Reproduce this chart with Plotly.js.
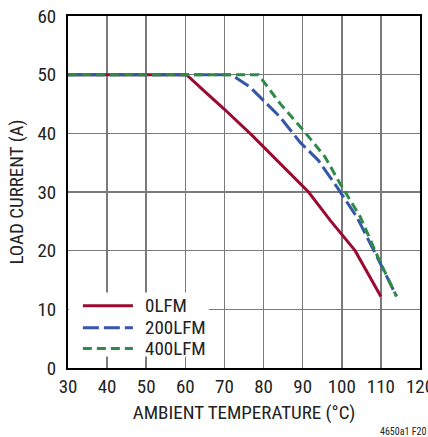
<!DOCTYPE html>
<html>
<head>
<meta charset="utf-8">
<script src="https://cdn.plot.ly/plotly-3.0.1.min.js"></script>
<style>
html,body{margin:0;padding:0;background:#fff;}
#chart{width:428px;height:437px;}
</style>
</head>
<body>
<div id="chart"></div>
<script>
// Data
const seriesNames = ["0LFM", "200LFM", "400LFM"];
const temp0 = [30, 60.3, 65, 70, 77, 84, 91.5, 97, 103.4, 110];
const load0 = [50, 50, 47.1, 44.1, 39.7, 35, 30, 25.2, 20, 12.2];
const temp200 = [30, 71.8, 76.5, 84.2, 89.3, 94, 98.7, 103.8, 109.8, 114];
const load200 = [50, 50, 47.9, 42.8, 38.5, 35.4, 30.9, 25.8, 17.9, 12.2];
const temp400 = [30, 78.7, 84.2, 90.2, 95.7, 99.5, 104.7, 109.5, 114];
const load400 = [50, 50, 45.1, 40.5, 36, 31.5, 25.8, 18.5, 12.2];
const xTicks = [30, 40, 50, 60, 70, 80, 90, 100, 110, 120];
const yTicks = [0, 10, 20, 30, 40, 50, 60];

const FONT = '"Liberation Sans Narrow", "Roboto Condensed", "Arial Narrow", Arial, sans-serif';
const TXT = '#222';
const colors = ['#9b0a30', '#3656a8', '#2f8a48'];
const dashes = ['solid', '16px,5px', '9px,5px'];

const traces = [
  {x: temp0, y: load0, name: seriesNames[0], mode: 'lines',
   line: {color: colors[0], width: 3, dash: dashes[0]}},
  {x: temp200, y: load200, name: seriesNames[1], mode: 'lines',
   line: {color: colors[1], width: 3, dash: dashes[1]}},
  {x: temp400, y: load400, name: seriesNames[2], mode: 'lines',
   line: {color: colors[2], width: 3, dash: dashes[2]}}
];

// Legend drawn as shapes + annotations (in axis coordinates of the plot)
const legRowsY = [10.62, 6.88, 3.31];
const shapes = [{
  type: 'rect', xref: 'x', yref: 'y', x0: 30.2, x1: 66.0, y0: 1.95, y1: 12.85,
  fillcolor: '#fff', line: {width: 0}, layer: 'above'
}];
const annotations = [];
seriesNames.forEach((n, i) => {
  shapes.push({type: 'line', xref: 'x', yref: 'y', x0: 33.8, x1: 46.6,
    y0: legRowsY[i], y1: legRowsY[i], layer: 'above',
    line: {color: colors[i], width: 3, dash: dashes[i]}});
  annotations.push({text: n, xref: 'x', yref: 'y', x: 49.3, y: legRowsY[i],
    xanchor: 'left', yanchor: 'middle', showarrow: false,
    font: {family: FONT, size: 19, color: TXT}});
});
annotations.push({
  text: '4650a1 F20', xref: 'paper', yref: 'paper', x: 1.025, y: -0.18,
  xanchor: 'right', yanchor: 'middle', showarrow: false,
  font: {family: FONT, size: 10, color: TXT}
});

const layout = {
  width: 428, height: 437,
  margin: {l: 68, r: 8, t: 15.5, b: 68.5},
  paper_bgcolor: '#fff', plot_bgcolor: '#fff',
  font: {family: FONT, size: 19, color: TXT},
  showlegend: false,
  xaxis: {
    range: [30, 120], tickvals: xTicks, ticktext: xTicks.map(String),
    showgrid: true, gridcolor: '#7a7a7a', gridwidth: 1.5,
    zeroline: false, showline: true, linecolor: '#000', linewidth: 2, mirror: true,
    ticks: '', ticklen: 0, ticklabeloverflow: 'allow',
    title: {text: 'AMBIENT TEMPERATURE (°C)', font: {family: FONT, size: 19, color: TXT}, standoff: 9},
    tickfont: {family: FONT, size: 19, color: TXT}
  },
  yaxis: {
    range: [0, 60], tickvals: yTicks, ticktext: yTicks.map(String),
    showgrid: true, gridcolor: '#7a7a7a', gridwidth: 1.5,
    zeroline: false, showline: true, linecolor: '#000', linewidth: 2, mirror: true,
    ticks: '', ticklen: 0, ticklabelstandoff: 6, ticklabeloverflow: 'allow',
    title: {text: 'LOAD CURRENT (A)', font: {family: FONT, size: 19, color: TXT}, standoff: 9},
    tickfont: {family: FONT, size: 19, color: TXT}
  },
  shapes: shapes,
  annotations: annotations
};

Plotly.newPlot('chart', traces, layout, {displayModeBar: false, staticPlot: true});
</script>
</body>
</html>
